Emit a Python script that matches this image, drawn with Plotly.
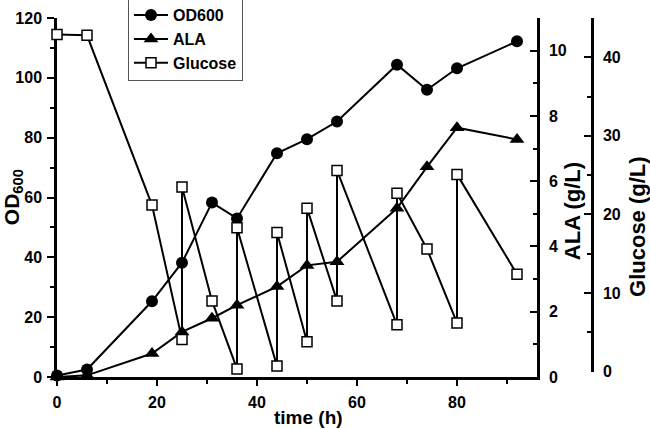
import plotly.graph_objects as go

# ---- data ----
t_od = [0, 6, 19, 25, 31, 36, 44, 50, 56, 68, 74, 80, 92]
od600 = [0.5, 2.5, 25.3, 38.2, 58.3, 53.0, 74.8, 79.5, 85.4, 104.4, 96.0, 103.2, 112.2]

t_ala = [0, 6, 19, 25, 31, 36, 44, 50, 56, 68, 74, 80, 92]
ala = [0.0, 0.05, 0.72, 1.38, 1.80, 2.20, 2.77, 3.42, 3.53, 5.17, 6.44, 7.64, 7.28]

t_glc = [0, 6, 19, 25, 25, 31, 36, 36, 44, 44, 50, 50, 56, 56, 68, 68, 74, 80, 80, 92]
glucose = [42.9, 42.8, 21.2, 4.1, 23.5, 9.0, 0.34, 18.3, 0.7, 17.7, 3.8, 20.8,
           9.0, 25.6, 5.95, 22.7, 15.6, 6.2, 25.1, 12.4]

FONT = "Liberation Sans, Arial, sans-serif"

fig = go.Figure()
fig.add_trace(go.Scatter(
    x=t_od, y=od600, name="OD600", mode="lines+markers",
    line=dict(color="black", width=2),
    marker=dict(symbol="circle", size=12, color="black"),
    yaxis="y", cliponaxis=False))
fig.add_trace(go.Scatter(
    x=t_ala, y=ala, name="ALA", mode="lines+markers",
    line=dict(color="black", width=2),
    marker=dict(symbol="triangle-up", size=13, color="black"),
    yaxis="y2", cliponaxis=False))
fig.add_trace(go.Scatter(
    x=t_glc, y=glucose, name="Glucose", mode="lines+markers",
    line=dict(color="black", width=2),
    marker=dict(symbol="square", size=10, color="white",
                line=dict(color="black", width=1.5)),
    yaxis="y3", cliponaxis=False))

axis_common = dict(showgrid=False, zeroline=False, showline=True,
                   linecolor="black", linewidth=2.5, tickcolor="black",
                   tickwidth=2, automargin=False,
                   tickfont=dict(size=16, color="black",
                                 family=FONT, weight="bold"))

fig.update_layout(
    width=650, height=429,
    margin=dict(l=57, r=58, t=18, b=52, autoexpand=False),
    paper_bgcolor="white", plot_bgcolor="rgba(0,0,0,0)",
    font=dict(family=FONT, color="black", weight="bold"),
    showlegend=True,
    legend=dict(x=0.1327, y=1.058, xanchor="left", yanchor="top",
                bgcolor="white", bordercolor="#555", borderwidth=1,
                font=dict(size=16, family=FONT, weight="bold"),
                itemwidth=34, tracegroupgap=0),
    xaxis=dict(domain=[0, 0.8972], range=[0, 96], dtick=20, tick0=0,
               ticks="outside", ticklen=6, anchor="y",
               minor=dict(dtick=10, ticks="outside", ticklen=4,
                          tickcolor="black", tickwidth=2),
               ticklabelstandoff=3, **axis_common),
    yaxis=dict(range=[0, 120], dtick=20, tick0=0, side="left", anchor="x",
               ticks="outside", ticklen=7,
               minor=dict(dtick=10, ticks="outside", ticklen=4,
                          tickcolor="black", tickwidth=2),
               ticklabelstandoff=2, **axis_common),
    yaxis2=dict(range=[0, 11], dtick=2, tick0=0, side="right", anchor="x",
                overlaying="y", ticks="inside", ticklen=7,
                minor=dict(dtick=1, ticks="inside", ticklen=4,
                           tickcolor="black", tickwidth=2),
                ticklabelstandoff=6, **axis_common),
    yaxis3=dict(range=[0, 45], dtick=10, tick0=0, side="right",
                anchor="free", position=1, domain=[0.015, 1],
                ticks="inside", ticklen=7,
                minor=dict(dtick=5, ticks="inside", ticklen=4,
                           tickcolor="black", tickwidth=2),
                ticklabelstandoff=6, **axis_common),
    annotations=[
        dict(text="OD<sub>600</sub>", xref="paper", yref="paper",
             x=-0.0822, y=0.501, textangle=-90, showarrow=False,
             xanchor="center", yanchor="middle",
             font=dict(size=21, family=FONT, weight="bold")),
        dict(text="ALA (g/L)", xref="paper", yref="paper",
             x=0.9626, y=0.462, textangle=-90, showarrow=False,
             xanchor="center", yanchor="middle",
             font=dict(size=22, family=FONT, weight="bold")),
        dict(text="Glucose (g/L)", xref="paper", yref="paper",
             x=1.086, y=0.418, textangle=-90, showarrow=False,
             xanchor="center", yanchor="middle",
             font=dict(size=22, family=FONT, weight="bold")),
        dict(text="time (h)", xref="paper", yref="paper",
             x=0.471, y=-0.1125, showarrow=False,
             xanchor="center", yanchor="middle",
             font=dict(size=19, family=FONT, weight="bold")),
    ],
)

fig.write_html("out.html",
               config={"displayModeBar": False},
               post_script="document.body.style.margin='0px';"
                           "document.body.style.overflow='hidden';")
